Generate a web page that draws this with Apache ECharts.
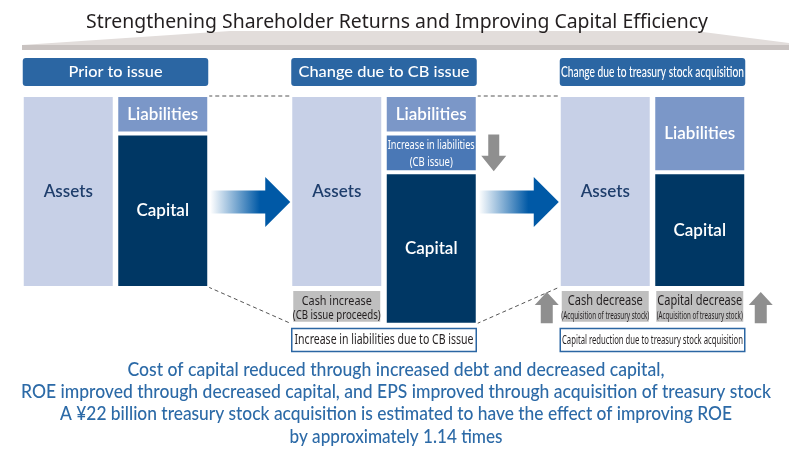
<!DOCTYPE html>
<html><head><meta charset="utf-8">
<script src="https://cdn.jsdelivr.net/npm/echarts@6/dist/echarts.min.js"></script>
<style>html,body{margin:0;padding:0;background:#fff}#c{width:789px;height:455px}</style>
</head><body><div id="c"></div>
<script>
// ---------- data (block sizes, assets = 100 units) ----------
const panelTitles = ['Prior to issue', 'Change due to CB issue', 'Change due to treasury stock acquisition'];
const sideNames = ['Assets side', 'Liabilities and capital side'];
const assets = [100, 100, 100];
const cashIncrease = [null, 19, null];
const cashDecrease = [null, null, 19];
const liabilities = [20, 20, 40];
const cbLiabilities = [null, 20, null];
const capital = [80, 79, 60];
const capitalDecrease = [null, null, 19];
const cbLabel = ['Increase in liabilities', '(CB issue)'];
const cashIncLabel = ['Cash increase', '(CB issue proceeds)'];
const cashDecLabel = ['Cash decrease', '(Acquisition of treasury stock)'];
const capDecLabel = ['Capital decrease', '(Acquisition of treasury stock)'];
const noteLabels = [null, 'Increase in liabilities due to CB issue', 'Capital reduction due to treasury stock acquisition'];
const titleText = 'Strengthening Shareholder Returns and Improving Capital Efficiency';
const summaryLines = [
  'Cost of capital reduced through increased debt and decreased capital,',
  'ROE improved through decreased capital, and EPS improved through acquisition of treasury stock',
  'A \u00a522 billion treasury stock acquisition is estimated to have the effect of improving ROE',
  'by approximately 1.14 times'
];

// ---------- layout / style ----------
const GRID_LEFT = [21, 289.5, 558], GRID_W = 189, GRID_TOP = 95, Y_MAX = 120, UNIT = 1.93;
const BAR_W = 93, HALF = 45.5;
const C = {
  assets: '#c7d0e7', liab: '#7b97c8', cb: '#4a78b6', capital: '#003764', gray: '#bfbfbf',
  arrowGray: '#8f8f8f', blue: '#0059a6', header: '#2b66a3', text: '#2c6aa7', dark: '#231f20', dash: '#555555'
};
const FONT = 'Noto Sans';
const SEMI = 'Lato';

const chart = echarts.init(document.getElementById('c'), null, { renderer: 'canvas' });

function nameLabel(color) {
  return { show: true, position: 'inside', formatter: '{a}', color, fontSize: 17, fontFamily: SEMI, fontWeight: 600 };
}
function bar(name, gi, vals, color, label, bw) {
  return {
    type: 'bar', name, xAxisIndex: gi, yAxisIndex: gi, stack: 's' + gi, barWidth: BAR_W,
    data: vals.map(v => v == null ? '-' : v),
    itemStyle: { color, borderColor: '#fff', borderWidth: bw || 2 },
    label: label || { show: false }, emphasis: { disabled: true }, silent: true
  };
}
const grids = [], xAxes = [], yAxes = [], series = [];
for (let i = 0; i < 3; i++) {
  grids.push({ left: GRID_LEFT[i], top: GRID_TOP, width: GRID_W, height: Y_MAX * UNIT, outerBoundsMode: 'none' });
  xAxes.push({ type: 'category', gridIndex: i, data: sideNames, show: false });
  yAxes.push({ type: 'value', gridIndex: i, min: 0, max: Y_MAX, inverse: true, show: false });
  series.push(
    bar('Assets', i, [assets[i], null], C.assets, nameLabel('#1f3e6c')),
    bar('Cash increase', i, [cashIncrease[i], null], C.gray, null, 3),
    bar('Cash decrease', i, [cashDecrease[i], null], C.gray, null, 3),
    bar('Liabilities', i, [null, liabilities[i]], C.liab, nameLabel('#ffffff')),
    bar('Increase in liabilities (CB issue)', i, [null, cbLiabilities[i]], C.cb),
    bar('Capital', i, [null, capital[i]], C.capital, nameLabel('#ffffff')),
    bar('Capital decrease', i, [null, capitalDecrease[i]], C.gray, null, 3)
  );
}
chart.setOption({ animation: false, grid: grids, xAxis: xAxes, yAxis: yAxes, series });

// ---------- decorations positioned from the scales ----------
const P = (gi, cat, v) => chart.convertToPixel({ gridIndex: gi }, [cat, v]);
const colL = gi => P(gi, 0, 0)[0] - HALF;
const colR = gi => P(gi, 1, 0)[0] + HALF;
const colC = (gi, c) => P(gi, c, 0)[0];
const yv = (gi, v) => P(gi, 0, v)[1];
const sum = a => a.reduce((s, v) => s + (v || 0), 0);
const sheet1 = i => sum([assets[i], cashIncrease[i]]);
const sheet2 = i => sum([liabilities[i], cbLiabilities[i], capital[i]]);

const mctx = document.createElement('canvas').getContext('2d');
function fitText(text, cx, cy, size, targetW, fill, weight, family) {
  weight = weight || 'normal';
  family = family || FONT;
  mctx.font = weight + ' ' + size + 'px ' + family;
  const w = mctx.measureText(text).width;
  return {
    type: 'text', x: cx, y: cy, scaleX: targetW / w, silent: true, z: 100,
    style: { text, fill, fontSize: size, fontFamily: family, fontWeight: weight,
      textAlign: 'center', textVerticalAlign: 'middle', align: 'center', verticalAlign: 'middle' }
  };
}
const g = [];
// roof / title
g.push({ type: 'polygon', silent: true, z: 0, shape: { points: [[22, 45], [230, 31], [695, 31], [789, 43], [789, 45]] }, style: { fill: '#e2dddb' } });
g.push({ type: 'rect', silent: true, z: 0, shape: { x: 22, y: 45, width: 767, height: 5 }, style: { fill: '#c9c3c1' } });
g.push(fitText(titleText, 397, 23, 19, 622, C.dark));

const headerW = [94, 171, 183], headerSize = [16, 16, 15];
const noteW = [0, 179, 181], noteSize = [0, 13.5, 12.5];
for (let i = 0; i < 3; i++) {
  const l = colL(i), r = colR(i);
  g.push({ type: 'rect', silent: true, z: 5, shape: { x: l, y: 58, width: r - l, height: 28, r: 3 }, style: { fill: C.header } });
  g.push(fitText(panelTitles[i], (l + r) / 2, 72, headerSize[i], headerW[i], '#ffffff', 500, SEMI));
  if (noteLabels[i]) {
    g.push({ type: 'rect', silent: true, z: 5, shape: { x: l + 0.5, y: 328.5, width: r - l - 1, height: 23 }, style: { fill: '#fff', stroke: C.header, lineWidth: 1.5 } });
    g.push(fitText(noteLabels[i], (l + r) / 2, 340, noteSize[i], noteW[i], C.dark));
  }
}
// connectors + blue arrows between panels
for (let i = 0; i < 2; i++) {
  const x1 = colR(i), x2 = colL(i + 1);
  g.push({ type: 'line', silent: true, z: 1, shape: { x1: x1, y1: yv(i, 0) + 1, x2: x2, y2: yv(i + 1, 0) + 1 }, style: { stroke: C.dash, lineWidth: 1, lineDash: [4, 3] } });
  g.push({ type: 'line', silent: true, z: 1, shape: { x1: x1, y1: yv(i, sheet2(i)) - 1, x2: x2, y2: yv(i + 1, sheet1(i + 1)) - 1 }, style: { stroke: C.dash, lineWidth: 1, lineDash: [4, 3] } });
  const a0 = x1 + 2, a1 = x2 - 1, yc = yv(i, 55.5), hx = a1 - 25;
  g.push({
    type: 'polygon', silent: true, z: 3,
    shape: { points: [[a0, yc - 11.5], [hx, yc - 11.5], [hx, yc - 25], [a1, yc], [hx, yc + 25], [hx, yc + 11.5], [a0, yc + 11.5]] },
    style: { fill: new echarts.graphic.LinearGradient(0, 0, 1, 0, [{ offset: 0, color: '#ffffff' }, { offset: 0.62, color: C.blue }, { offset: 1, color: C.blue }]) }
  });
}
// gray arrows
function downArrow(cx, top, bot) {
  const hb = top + (bot - top) * 0.58;
  return { type: 'polygon', silent: true, z: 3, shape: { points: [[cx - 5.5, top], [cx + 5.5, top], [cx + 5.5, hb], [cx + 12.5, hb], [cx, bot], [cx - 12.5, hb], [cx - 5.5, hb]] }, style: { fill: C.arrowGray } };
}
function upArrow(cx, top, bot) {
  const hb = top + 13;
  return { type: 'polygon', silent: true, z: 3, shape: { points: [[cx, top], [cx + 12, hb], [cx + 6, hb], [cx + 6, bot], [cx - 6, bot], [cx - 6, hb], [cx - 12, hb]] }, style: { fill: C.arrowGray } };
}
const cbTop = yv(1, liabilities[1]), cbBot = yv(1, liabilities[1] + cbLiabilities[1]);
g.push(downArrow(colR(1) + 17, cbTop + 1, cbBot - 1));
const dTop = yv(2, assets[2]), dBot = yv(2, assets[2] + cashDecrease[2]);
g.push(upArrow(colL(2) - 13, dTop + 4, dBot - 1.5));
g.push(upArrow(colR(2) + 15.5, dTop + 4, dBot - 1.5));

// labels inside small blocks
const cbMid = (cbTop + cbBot) / 2;
g.push(fitText(cbLabel[0], colC(1, 1), cbMid - 8, 13, 87, '#ffffff'));
g.push(fitText(cbLabel[1], colC(1, 1), cbMid + 9, 13, 43, '#ffffff'));
const ciMid = (yv(1, assets[1]) + yv(1, assets[1] + cashIncrease[1])) / 2;
g.push(fitText(cashIncLabel[0], colC(1, 0), ciMid - 5, 13, 70, C.dark));
g.push(fitText(cashIncLabel[1], colC(1, 0), ciMid + 9.5, 12, 88, C.dark));
const dMid = (dTop + dBot) / 2;
g.push(fitText(cashDecLabel[0], colC(2, 0), dMid - 5, 14, 75, C.dark));
g.push(fitText(cashDecLabel[1], colC(2, 0), dMid + 9.5, 10.5, 88, C.dark));
g.push(fitText(capDecLabel[0], colC(2, 1), dMid - 5, 14, 85, C.dark));
g.push(fitText(capDecLabel[1], colC(2, 1), dMid + 9.5, 10.5, 86, C.dark));

// summary text
const sumY = [370, 392, 414, 437], sumW = [537, 750, 672, 213];
summaryLines.forEach((t, k) => g.push(fitText(t, 396, sumY[k], 18.5, sumW[k], C.text, 500, SEMI)));

chart.setOption({ graphic: { elements: g } });
</script></body></html>
